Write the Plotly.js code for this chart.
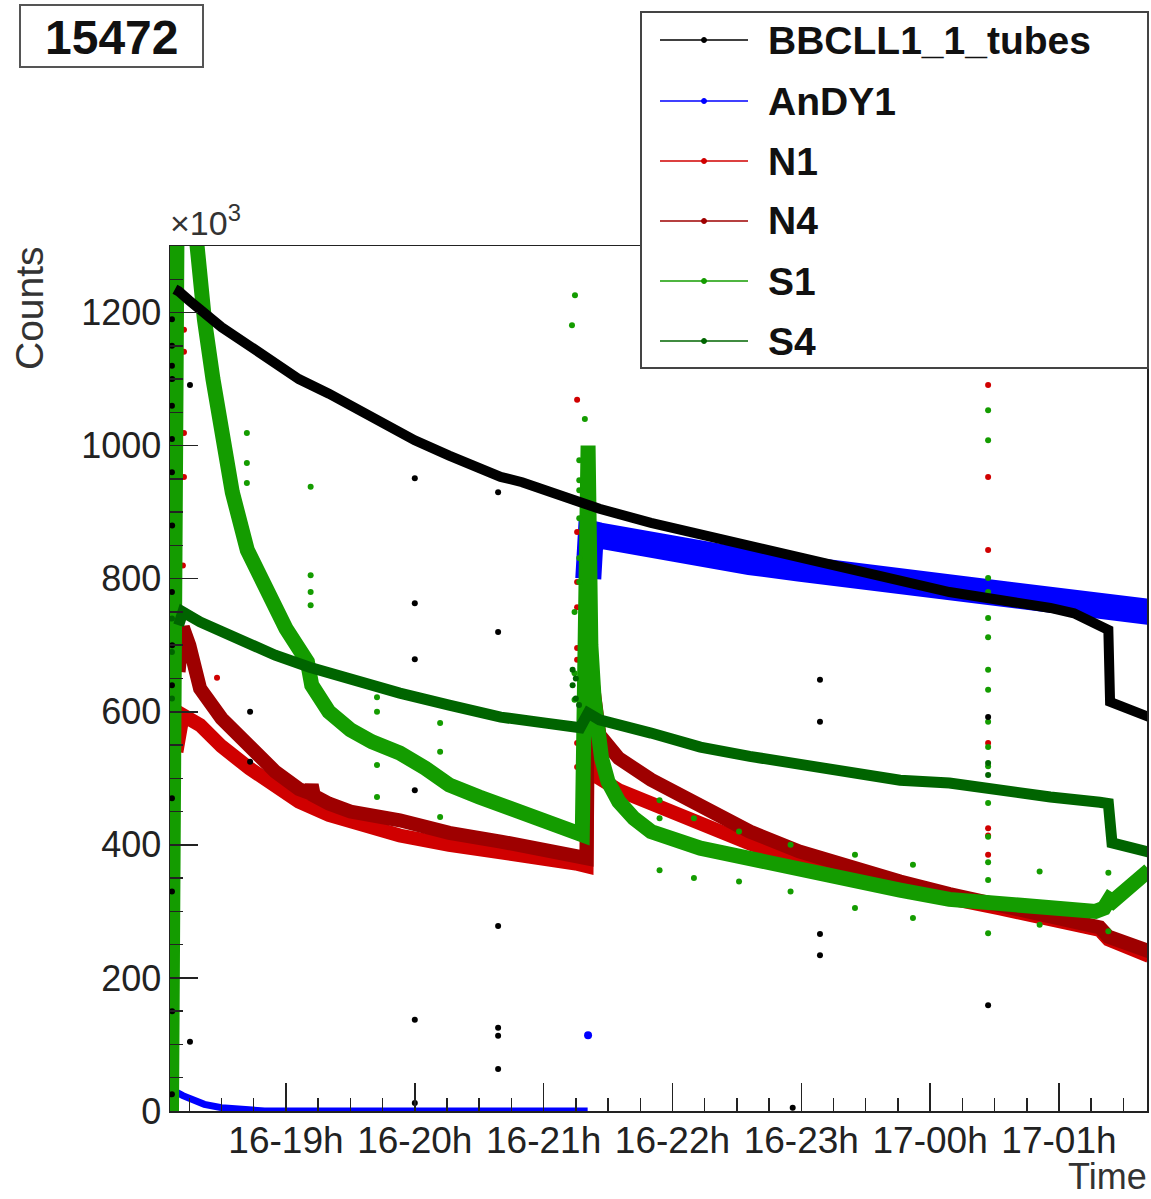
<!DOCTYPE html>
<html>
<head>
<meta charset="utf-8">
<script src="https://cdn.plot.ly/plotly-3.0.1.min.js"></script>
<style>html,body{margin:0;padding:0;background:#fff;}#chart{width:1151px;height:1199px;}</style>
</head>
<body>
<div id="chart"></div>
<script>
// Time values are minutes after 16-18h00 (run 15472); values are counts in units of 10^3.
var seriesNames = ['BBCLL1_1_tubes', 'AnDY1', 'N1', 'N4', 'S1', 'S4'];
var seriesColors = ['#000000', '#0000ff', '#d00000', '#9e0000', '#149c00', '#006400'];

// BBCLL1_1_tubes
var bbT = [8.3, 10, 15, 20, 30, 43, 55, 66, 80, 90, 105, 120, 136, 150, 160, 170, 181, 190, 198, 200.7, 206, 230, 253, 276, 299, 323, 346, 369, 392, 416, 427, 435, 443, 443.8, 452, 462];
var bbV = [1235, 1232, 1218, 1205, 1178, 1150, 1123, 1100, 1078, 1060, 1035, 1008, 985, 965, 953, 945, 932, 922, 915, 912, 905, 884, 866, 850, 833, 815, 797, 780, 770, 756, 748, 735, 723, 615, 605, 592];
var bbOutT = [6.9, 6.9, 6.9, 6.9, 6.9, 6.9, 6.9, 6.9, 6.9, 6.9, 6.9, 7, 7, 7, 7, 15.3, 15.3, 43.3, 43.3, 120, 120, 120, 120, 120, 120, 158.8, 158.8, 158.8, 158.8, 158.8, 158.8, 296, 308.7, 308.7, 308.7, 308.7, 387, 387];
var bbOutV = [1190, 1150, 1120, 1060, 1010, 960, 780, 640, 470, 330, 25, 1100, 880, 700, 150, 1091, 104, 600, 525, 951, 763, 679, 482, 137, 12, 930, 720, 278, 125, 113, 63, 5, 648, 585, 266, 234, 592, 159];

// AnDY1 (two running periods)
var anT1 = [6.6, 8, 12, 17, 22, 30, 40, 50, 100, 150, 200.5];
var anV1 = [35, 30, 23, 16, 10, 5, 2, 0, 0, 0, 0];
var anT2 = [200.8, 201.2, 202, 206, 230, 253, 276, 299, 323, 346, 369, 392, 416, 439, 462];
var anV2 = [800, 860, 868, 865, 848, 836, 825, 815, 806, 797, 788, 780, 770, 760, 750];
var anOutT = [200.7, 200.9, 201];
var anOutV = [114, 790, 805];

// N1
var n1T = [9, 12, 20, 30, 43, 55, 66, 80, 90, 113, 136, 160, 181, 195, 200, 200.7, 201.5, 203, 206, 215, 230, 253, 276, 299, 323, 346, 369, 392, 416, 439, 443, 450, 462];
var n1V = [540, 595, 580, 548, 515, 488, 465, 445, 436, 414, 400, 390, 380, 372, 368, 620, 565, 525, 500, 482, 462, 432, 402, 376, 356, 338, 320, 305, 288, 272, 258, 248, 233];
var n1OutT = [6.9, 6.9, 6.9, 6.9, 6.9, 6.9, 6.9, 7.2, 7.2, 12.5, 12.5, 12.5, 12.5, 12, 27.9, 195.6, 195.6, 195.6, 195.6, 195.6, 195.6, 195.6, 195.6, 387, 387, 387, 387, 387, 387, 387];
var n1OutV = [40, 110, 180, 260, 330, 420, 500, 560, 470, 1174, 1141, 1019, 953, 820, 651, 1069, 870, 795, 757, 696, 678, 553, 517, 1091, 953, 843, 553, 425, 414, 385];

// N4
var n4T = [10, 12, 15, 20, 30, 43, 55, 66, 71, 72, 73, 80, 90, 113, 136, 160, 181, 195, 200, 200.7, 201.5, 203, 206, 215, 230, 253, 276, 299, 323, 346, 369, 392, 416, 439, 443, 450, 462];
var n4V = [660, 727, 700, 635, 590, 545, 510, 484, 478, 490, 474, 462, 450, 437, 418, 405, 392, 385, 380, 755, 700, 640, 565, 530, 498, 458, 420, 390, 366, 345, 326, 308, 292, 276, 262, 252, 240];

// S1
var s1T = [6.7, 8, 9.5, 14, 18, 22, 26, 30, 35, 42, 50, 60, 70, 71, 72, 80, 90, 100, 113, 125, 136, 150, 160, 170, 181, 190, 198, 200.7, 201.2, 202, 203.5, 205, 207, 210, 215, 222, 230, 253, 276, 299, 323, 346, 369, 392, 416, 430, 437, 441, 443.5, 445, 452, 462];
var s1V = [0, 900, 1450, 1450, 1290, 1190, 1100, 1020, 930, 843, 790, 725, 675, 665, 640, 600, 573, 555, 538, 515, 490, 472, 460, 445, 433, 422, 415, 1000, 800, 700, 620, 570, 530, 495, 465, 440, 420, 395, 378, 362, 345, 332, 318, 310, 304, 302, 300, 305, 318, 315, 335, 362];
var s1OutT = [41.8, 41.8, 41.8, 71.5, 71.5, 71.5, 71.5, 102.4, 102.4, 102.4, 102.4, 131.8, 131.8, 131.8, 193.2, 194.6, 194.4, 194.4, 194.4, 196.6, 196.6, 196.6, 196.6, 196.6, 196.6, 199.2, 234, 234, 234, 250, 250, 271, 271, 295, 295, 325, 325, 352, 352, 387, 387, 387, 387, 387, 387, 387, 387, 387, 387, 387, 387, 387, 387, 387, 387, 411, 411, 443, 443];
var s1OutV = [1019, 974, 944, 938, 805, 780, 760, 622, 600, 520, 472, 583, 540, 442, 1181, 1226, 750, 658, 618, 978, 948, 933, 891, 831, 795, 1040, 467, 440, 362, 440, 350, 420, 345, 400, 330, 385, 305, 370, 290, 1053, 1008, 801, 780, 741, 712, 663, 633, 585, 547, 518, 463, 412, 374, 347, 267, 360, 280, 358, 270];

// S4
var s4T = [10, 12, 20, 32, 43, 55, 71, 90, 113, 136, 160, 181, 197, 200.7, 206, 230, 253, 276, 299, 323, 346, 369, 392, 416, 439, 443, 444.7, 450, 462];
var s4V = [730, 750, 735, 718, 703, 685, 667, 648, 628, 610, 592, 583, 576, 598, 588, 568, 547, 533, 520, 508, 497, 493, 482, 472, 464, 462, 403, 398, 389];
var s4OutT = [6.9, 6.9, 6.9, 193.5, 193.5, 195, 195, 196.5, 387, 387];
var s4OutV = [620, 690, 740, 663, 640, 650, 620, 610, 523, 505];

// minutes after 2011-03-16 18:00 -> date string
function tm(m) {
  var totalSec = Math.round((18 * 60 + m) * 60);
  var day = 16 + Math.floor(totalSec / 86400);
  var s = totalSec % 86400;
  var hh = Math.floor(s / 3600), mm = Math.floor((s % 3600) / 60), ss = s % 60;
  function p(n) { return (n < 10 ? '0' : '') + n; }
  return '2011-03-' + p(day) + ' ' + p(hh) + ':' + p(mm) + ':' + p(ss);
}
function X(arr) { return arr.map(tm); }

var FONT = 'Liberation Sans, Arial, Helvetica, sans-serif';
var traces = [];

function band(t, v, idx, w) {
  return {
    type: 'scatter', mode: 'lines', x: X(t), y: v, name: seriesNames[idx],
    showlegend: false, line: { color: seriesColors[idx], width: w, shape: 'linear' }
  };
}
function dots(t, v, idx, s) {
  return {
    type: 'scatter', mode: 'markers', x: X(t), y: v, name: seriesNames[idx],
    showlegend: false, marker: { color: seriesColors[idx], size: s || 6 }
  };
}

traces.push(band(anT1, anV1, 1, 7));
traces.push(band(anT2, anV2, 1, 26));
traces.push(dots(anOutT, anOutV, 1, 8));
traces.push(band(n1T, n1V, 2, 14));
traces.push(dots(n1OutT, n1OutV, 2));
traces.push(band(n4T, n4V, 3, 14));
traces.push(band(s1T, s1V, 4, 15));
traces.push(dots(s1OutT, s1OutV, 4));
traces.push(band(s4T, s4V, 5, 11));
traces.push(dots(s4OutT, s4OutV, 5));
traces.push(band(bbT, bbV, 0, 10));
traces.push(dots(bbOutT, bbOutV, 0));

// pixel helpers for paper coordinates (plot area 170..1147 x 246..1111)
function px(x) { return (x - 170) / 977; }
function py(y) { return (1111 - y) / 865; }

var axisCommon = {
  showgrid: false, zeroline: false, showline: true, mirror: true,
  linecolor: '#222', linewidth: 1.5,
  ticks: 'inside', ticklen: 28, tickwidth: 1.5, tickcolor: '#222',
  tickfont: { family: FONT, size: 36, color: '#222' }
};

var shapes = [
  { type: 'rect', xref: 'paper', yref: 'paper', x0: px(641), x1: px(1148), y0: py(368), y1: py(12),
    line: { color: '#444', width: 2 }, fillcolor: '#fff', layer: 'above' },
  { type: 'rect', xref: 'paper', yref: 'paper', x0: px(20), x1: px(203), y0: py(67), y1: py(5),
    line: { color: '#555', width: 2 }, fillcolor: '#fff', layer: 'above' }
];
var annotations = [
  { text: '<b>15472</b>', xref: 'paper', yref: 'paper', x: px(111.5), y: py(37), xanchor: 'center', yanchor: 'middle',
    showarrow: false, font: { family: FONT, size: 48, color: '#111' } },
  { text: '×10<sup>3</sup>', xref: 'paper', yref: 'paper', x: px(168), y: py(244), xanchor: 'left', yanchor: 'bottom',
    showarrow: false, font: { family: FONT, size: 34, color: '#333' } },
  { text: 'Counts', xref: 'paper', yref: 'paper', x: px(30), y: py(244), xanchor: 'center', yanchor: 'top',
    textangle: -90, showarrow: false, font: { family: FONT, size: 39, color: '#333' } },
  { text: 'Time', xref: 'paper', yref: 'paper', x: px(1149), y: py(1199), xanchor: 'right', yanchor: 'bottom',
    showarrow: false, font: { family: FONT, size: 36, color: '#333' } }
];

// legend drawn as a ROOT-style TLegend: line sample with a dot, bold name
var legendRows = [40, 101, 161, 221, 281, 341];
seriesNames.forEach(function (n, i) {
  var r = legendRows[i];
  shapes.push({ type: 'line', xref: 'paper', yref: 'paper', x0: px(660), x1: px(748), y0: py(r), y1: py(r),
    line: { color: seriesColors[i], width: 1.5 }, layer: 'above' });
  shapes.push({ type: 'circle', xref: 'paper', yref: 'paper', x0: px(701.5), x1: px(706.5), y0: py(r + 2.5), y1: py(r - 2.5),
    line: { color: seriesColors[i], width: 1 }, fillcolor: seriesColors[i], layer: 'above' });
  annotations.push({ text: '<b>' + n + '</b>', xref: 'paper', yref: 'paper', x: px(766), y: py(r), xanchor: 'left', yanchor: 'middle',
    showarrow: false, font: { family: FONT, size: 39, color: '#111' } });
});

var layout = {
  width: 1151, height: 1199,
  margin: { l: 170, r: 4, t: 246, b: 88, pad: 0 },
  paper_bgcolor: '#fff', plot_bgcolor: '#fff',
  showlegend: false,
  xaxis: Object.assign({}, axisCommon, {
    type: 'date',
    range: [tm(6), tm(461)],
    tick0: '2011-03-16 00:00', dtick: 3600000,
    tickformat: '%d-%Hh',
    ticklabelstandoff: -4,
    tickfont: { family: FONT, size: 37, color: '#222' },
    minor: { dtick: 900000, ticks: 'inside', ticklen: 13, tickwidth: 1.5, tickcolor: '#222', showgrid: false }
  }),
  yaxis: Object.assign({}, axisCommon, {
    range: [0, 1300], dtick: 200, tick0: 0,
    minor: { dtick: 50, ticks: 'inside', ticklen: 13, tickwidth: 1.5, tickcolor: '#222', showgrid: false }
  }),
  shapes: shapes,
  annotations: annotations
};

Plotly.newPlot('chart', traces, layout, { staticPlot: true, displayModeBar: false });
</script>
</body>
</html>
